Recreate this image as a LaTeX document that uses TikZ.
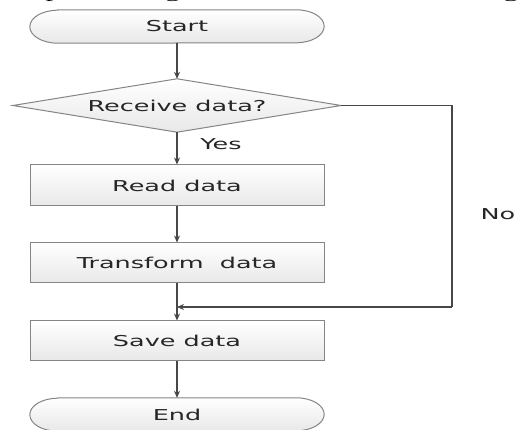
\documentclass[tikz,border=0pt]{standalone}
\usepackage{fontspec}
\newfontfamily\dfont[FakeStretch=1.7]{DejaVu Sans}
\newfontfamily\cfont[FakeStretch=1.66]{Liberation Serif}
\usetikzlibrary{arrows.meta,backgrounds}
\begin{document}
\begin{tikzpicture}[x=1pt,y=-1pt,
  every node/.style={font=\dfont\fontsize{15}{18}\selectfont, text=black!85, inner sep=0pt},
  shapeline/.style={draw=black!48, line width=1pt, top color=white, bottom color=black!9},
  boxst/.style={rectangle, shapeline, minimum width=294pt, minimum height=40pt},
  termst/.style={rectangle, minimum width=294pt, minimum height=33pt},
  decst/.style={rectangle, minimum width=328pt, minimum height=53pt},
  conn/.style={draw=black!72, line width=1.1pt, -{Stealth[length=7pt,width=6pt]}},
  connplain/.style={draw=black!72, line width=1.1pt},
  lab/.style={font=\dfont\fontsize{15}{18}\selectfont}
]
\useasboundingbox (0,0) rectangle (528,430);
\clip (0,0) rectangle (528,430);

\node[anchor=base east, font=\cfont\fontsize{19}{20}\selectfont, text=black] (cap) at (519,-2) {data processing module is as shown in Fig};

\node[termst] (start) at (177,26.5) {Start};
\node[decst] (dec) at (177,105.5) {Receive data?};
\node[boxst, minimum height=41pt] (read) at (177,185.5) {Read data};
\node[boxst] (trans) at (177,263) {Transform~~data};
\node[boxst] (save) at (177,341) {Save data};
\node[termst] (end) at (177,414.5) {End};

\node[lab] (yes) at (221,144) {Yes};
\node[lab] (no) at (498,214) {No};

\coordinate (c1) at (452,105.5);
\coordinate (c2) at (452,307);
\coordinate (join) at (177,307);

\begin{scope}[on background layer]
  \foreach \n in {start,end}{
    \draw[shapeline] ([xshift=28pt]\n.north west) -- ([xshift=-28pt]\n.north east)
      arc[start angle=90, end angle=-90, x radius=28pt, y radius=16.5pt]
      -- ([xshift=28pt]\n.south west)
      arc[start angle=270, end angle=90, x radius=28pt, y radius=16.5pt] -- cycle;
  }
  \draw[shapeline] (dec.north) -- (dec.east) -- (dec.south) -- (dec.west) -- cycle;
\end{scope}

\draw[conn] (start.south) -- (dec.north);
\draw[conn] (dec.south) -- (read.north);
\draw[conn] (read.south) -- (trans.north);
\draw[conn] (trans.south) -- (save.north);
\draw[conn] (save.south) -- (end.north);
\draw[connplain] (dec.east) -- (c1) -- (c2);
\draw[conn] (c2) -- (join);
\end{tikzpicture}
\end{document}
